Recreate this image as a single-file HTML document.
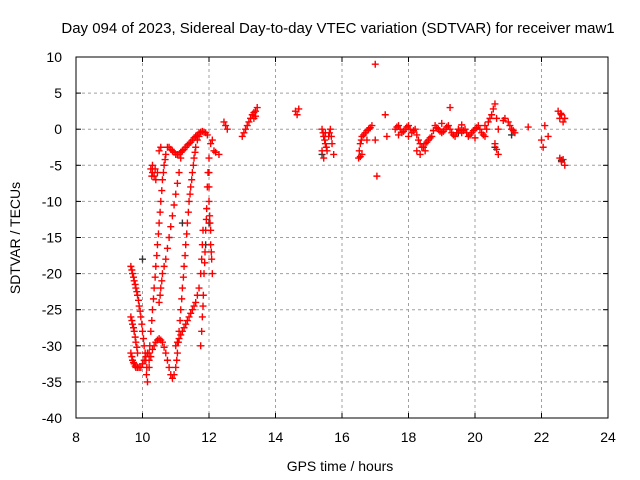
<!DOCTYPE html>
<html><head><meta charset="utf-8"><style>
body{margin:0;background:#fff;}
svg{display:block;font-family:"Liberation Sans",sans-serif;}
</style></head><body>
<svg id="chart" width="640" height="480">
<rect width="640" height="480" fill="#fff"/>
<text x="338" y="33" font-size="15" text-anchor="middle">Day 094 of 2023, Sidereal Day-to-day VTEC variation (SDTVAR) for receiver maw1</text>
<g id="grid"></g><g id="axes"></g><g id="marks"></g>
<text x="340" y="471" font-size="14" text-anchor="middle">GPS time / hours</text>
<text transform="translate(20,238) rotate(-90)" font-size="14" text-anchor="middle">SDTVAR / TECUs</text>
</svg>
<script>
const xTicks=[8,10,12,14,16,18,20,22,24];
const yTicks=[10,5,0,-5,-10,-15,-20,-25,-30,-35,-40];
const redPts=[
[9.65,-19],[9.68,-19.5],[9.7,-20],[9.73,-20.5],[9.75,-21],[9.78,-21.5],[9.8,-22],[9.83,-22.5],[9.85,-23],[9.88,-23.7],[9.9,-24.5],[9.93,-25.2],[9.95,-26],[9.98,-27],[10.0,-28],[10.03,-29],[10.05,-30],[10.08,-31],[10.1,-32],[10.12,-34],[10.15,-35],[10.13,-33],
[9.65,-31],[9.68,-31.5],[9.7,-32],[9.73,-32.3],[9.75,-32.5],[9.78,-32.8],[9.8,-33],[9.85,-33],[9.9,-33],[9.95,-33],[10.0,-32.5],[10.05,-32],[10.1,-31.5],[10.15,-31],[10.2,-31],
[9.65,-26],[9.68,-26.5],[9.7,-27],[9.73,-27.5],[9.75,-28],[9.78,-28.8],[9.8,-29.5],[9.83,-30.2],[9.85,-31],
[10.2,-32],[10.22,-30],[10.25,-28],[10.28,-26.5],[10.3,-25],[10.33,-23.5],[10.35,-22],[10.38,-20.5],[10.4,-19],[10.43,-17.5],[10.45,-16],[10.48,-14.5],[10.5,-13],[10.53,-11.5],[10.55,-10],[10.58,-8.5],[10.6,-7],[10.63,-6],[10.65,-5],[10.68,-4.2],[10.7,-3.5],[10.75,-2.5],[10.8,-2.5],[10.85,-2.8],[10.9,-3],[10.95,-3.2],[11.0,-3.5],[11.05,-3.5],[11.1,-3.5],[11.15,-3.2],[11.2,-3],[11.25,-2.8],[11.3,-2.5],[11.35,-2.2],[11.4,-2],[11.45,-1.8],[11.5,-1.5],[11.55,-1.2],[11.6,-1],[11.65,-0.8],[11.7,-0.5],[11.75,-0.4],[11.8,-0.3],[11.85,-0.4],[11.9,-0.5],[11.95,-0.8],
[10.2,-33],[10.25,-31.5],[10.3,-30.5],[10.35,-30],[10.4,-29.5],[10.45,-29.2],[10.5,-29],[10.55,-29.2],[10.6,-29.5],[10.65,-30.2],[10.7,-31],[10.75,-32],[10.8,-33],[10.85,-34],[10.9,-34.5],[10.95,-34],[11.0,-33],
[11.03,-32],[11.05,-31],[11.08,-29.5],[11.1,-28],[11.13,-26.5],[11.15,-25],[11.18,-23.5],[11.2,-22],[11.23,-20.5],[11.25,-19],[11.28,-17.5],[11.3,-16],[11.33,-14.5],[11.35,-13],[11.38,-11.5],[11.4,-10],[11.43,-9],[11.45,-8],[11.48,-7],[11.5,-6],[11.53,-5],[11.55,-4],[11.58,-3.2],[11.6,-2.5],[11.65,-1.5],[11.7,-1],
[10.5,-24],[10.53,-23],[10.55,-22],[10.58,-21],[10.6,-20],[10.65,-19],[10.7,-18],[10.75,-16.5],[10.8,-15],[10.85,-13.5],[10.9,-12],[10.95,-10.5],[11.0,-9],[11.05,-7.5],[11.1,-6],[11.15,-4],[11.2,-3],
[11.0,-30],[11.05,-29.5],[11.1,-29],[11.15,-28.5],[11.2,-28],[11.25,-27.5],[11.3,-27],[11.35,-26.5],[11.4,-26],[11.45,-25.5],[11.5,-25],[11.55,-24.5],[11.6,-24],[11.65,-23],[11.7,-22],
[11.75,-30],[11.78,-28],[11.8,-26],[11.82,-24.5],[11.83,-23],[11.85,-20],[11.87,-18.5],[11.88,-17],[11.9,-14],[11.92,-12.5],[11.93,-11],[11.95,-8],[11.97,-6],[12.0,-4],
[11.75,-20],[11.78,-18],[11.8,-16],[11.82,-14],
[12.0,-10],[12.02,-12],[12.03,-13],[12.05,-14],[12.05,-16],[12.07,-17],[12.08,-18],[12.1,-20],[12.0,-6],[12.0,-8],[12.05,-2],[12.1,-1.5],[12.15,-3],[12.2,-3.2],[12.3,-3.5],
[10.25,-5.5],[10.3,-6],[10.35,-6.5],[10.4,-7],[10.45,-6],[10.3,-5],[10.28,-6.5],[10.38,-5.5],[10.5,-3],[10.55,-2.5],
[12.45,1],[12.5,0.5],[12.55,0],[13.0,-1],[13.05,-0.5],[13.1,0],[13.15,0.5],[13.2,1],[13.25,1.5],[13.3,2],[13.35,2.3],[13.4,2.5],[13.45,3],[13.35,1.5],[13.4,1.8],
[14.6,2.5],[14.65,2],[14.7,2.8],
[15.4,0],[15.43,-0.5],[15.45,-1],[15.48,-1.5],[15.5,-2],[15.53,-2.5],[15.55,-3],[15.6,-1],[15.62,-0.5],[15.65,0],[15.68,-1],[15.7,-2],[15.75,-3.5],[15.45,-4],[15.4,-3],[15.5,-0.5],
[16.5,-4],[16.52,-3],[16.55,-2],[16.58,-1.5],[16.6,-1],[16.65,-0.8],[16.7,-0.5],[16.75,-0.2],[16.8,0],[16.85,0.2],[16.9,0.5],[16.6,-3.5],[16.55,-3.8],[16.75,-1.5],[17.0,-1.5],
[17.0,9],[17.05,-6.5],[17.3,2],[17.35,-1],
[17.6,0],[17.65,0.3],[17.7,0.5],[17.75,0],[17.8,-0.5],[17.85,-0.3],[17.9,0],[17.95,0.3],[18.0,0.5],[18.05,0],[18.1,-0.5],[18.15,-0.2],[18.2,0],[18.25,-0.8],[18.3,-1.5],[18.35,-2],[18.4,-2.5],[18.45,-2.5],[18.5,-2],[18.55,-1.8],[18.6,-1.5],[18.65,-1.2],[18.7,-1],[18.75,-0.2],[18.8,0.5],[18.85,0.2],[18.9,0],[18.95,-0.3],[19.0,-0.5],[19.05,-0.3],[19.1,0],[19.15,0.3],[19.2,0.5],[19.25,0],[19.3,-0.5],[19.35,-0.8],[19.4,-1],[19.45,-0.5],[19.5,0],[19.55,-0.2],[19.6,-0.5],[19.65,-0.2],[19.7,0],[19.75,-0.5],[19.8,-1],[19.85,-0.8],[19.9,-0.5],[19.95,-0.2],[20.0,0],[20.05,0.2],[20.1,0.5],[20.15,0],[20.2,-0.5],[20.25,-0.8],[20.3,-1],[20.35,0],[20.4,1],[20.45,1.5],[20.5,2],[20.55,2.8],[20.6,3.5],[20.65,1.5],[20.7,0],[20.6,-2],[20.65,-2.8],[20.7,-3.5],[20.85,1.2],[21.0,1],[21.05,0.5],[21.1,0],[21.15,-0.2],[21.2,-0.5],[20.9,1.5],[19.25,3],[18.25,-3],[18.35,-3.5],
[17.7,-0.8],[18.0,-1],[18.5,-3],[19.0,0.8],[19.6,0.6],[20.0,-1.2],[20.3,0.5],
[21.6,0.3],[22.0,-1.5],[22.05,-2.5],[22.1,0.5],[22.2,-1],[22.5,2.5],[22.55,1.5],[22.6,2],[22.65,1],[22.7,1.5],[22.58,2.2],[22.55,-4],[22.6,-4.5],[22.65,-4.2],[22.7,-5]
];
const grayPts=[[10.0,-18],[11.2,-13],[12.0,-13],[11.9,-16],[15.4,-3.5],[19.5,-0.5],[20.6,-2.5],[21.1,-0.8],[22.6,-4.3]];
const X=h=>76+(h-8)*33.25, Y=v=>57+(10-v)*7.22;
const NS='http://www.w3.org/2000/svg';
function mk(t,a,p){const e=document.createElementNS(NS,t);for(const k in a)e.setAttribute(k,a[k]);p.appendChild(e);return e;}
const grid=document.getElementById('grid'),axes=document.getElementById('axes'),marks=document.getElementById('marks');
xTicks.forEach(t=>{const x=X(t);
 if(t>8&&t<24){const g=mk('line',{x1:x,y1:57,x2:x,y2:418,stroke:'#a0a0a0','stroke-dasharray':'3,3'},grid);}
 const l=mk('text',{x:x,y:442,'font-size':14,'text-anchor':'middle'},axes);l.textContent=t;
 
 
 mk('line',{x1:x,y1:418,x2:x,y2:413,stroke:'#000'},axes);mk('line',{x1:x,y1:57,x2:x,y2:62,stroke:'#000'},axes);});
yTicks.forEach(t=>{const y=Y(t);
 if(t<10&&t>-40){const g=mk('line',{x1:76,y1:y,x2:608,y2:y,stroke:'#a0a0a0','stroke-dasharray':'3,3'},grid);}
 const l=mk('text',{x:62,y:y+5,'font-size':14,'text-anchor':'end'},axes);l.textContent=t;
 
 
 mk('line',{x1:76,y1:y,x2:81,y2:y,stroke:'#000'},axes);mk('line',{x1:608,y1:y,x2:603,y2:y,stroke:'#000'},axes);});
const fr=mk('rect',{x:76,y:57,width:532,height:361,fill:'none',stroke:'#000'},axes);


function plus(p,col){const x=X(p[0]),y=Y(p[1]);
 const e=mk('path',{d:`M${x-3.5},${y}h7M${x},${y-3.5}v7`,stroke:col,'stroke-width':1.4},marks);
 
 }
grayPts.forEach(p=>plus(p,'#333'));
redPts.forEach(p=>plus(p,'#ff0000'));
</script>
</body></html>
